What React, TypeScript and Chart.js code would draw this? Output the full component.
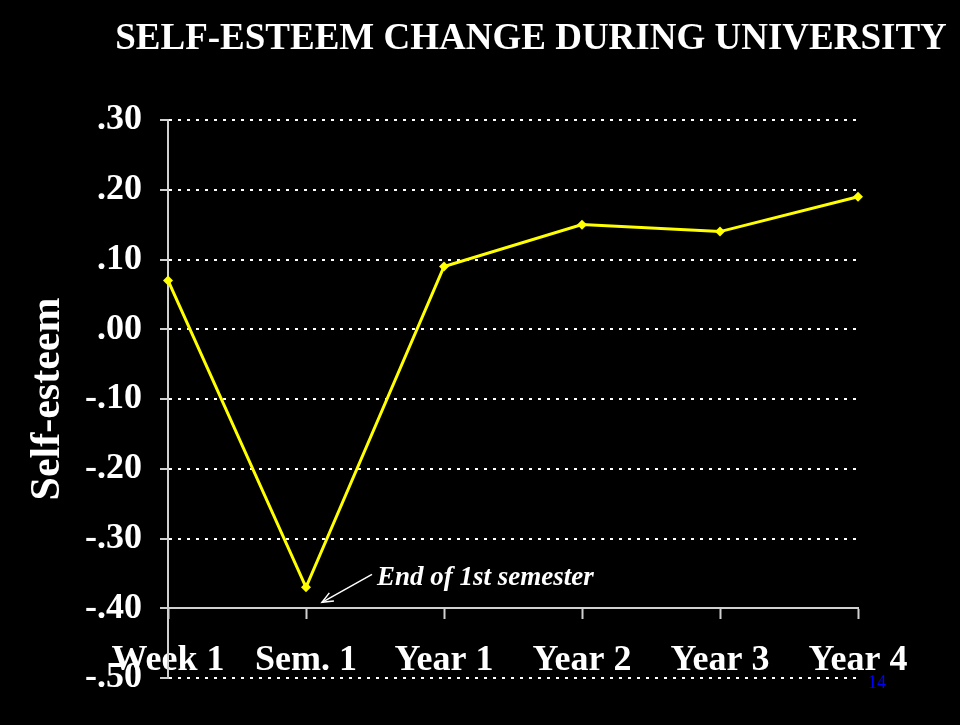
import React, { useEffect, useRef } from "react";
import { Chart, registerables } from "chart.js";

Chart.register(...registerables);

const chartTitle = "SELF-ESTEEM CHANGE DURING UNIVERSITY";
const categories = ["Week 1", "Sem. 1", "Year 1", "Year 2", "Year 3", "Year 4"];
const selfEsteem = [0.07, -0.37, 0.09, 0.15, 0.14, 0.19];
const yAxisTitle = "Self-esteem";
const yMin = -0.5;
const yMax = 0.3;
const yStep = 0.1;
const xAxisAt = -0.4;
const annotationText = "End of 1st semester";
const annotationIndex = 1;
const pageNumber = "14";

const SERIF = "'Liberation Serif', 'Times New Roman', serif";
const AXIS_GRAY = "#d0d0d0";

function fmtTick(v: number): string {
  const r = Math.round(v * 100) / 100;
  const s = Math.abs(r).toFixed(2).replace(/^0/, "");
  return (r < 0 ? "-" : "") + s;
}

const overlayPlugin = {
  id: "overlay",
  afterDraw(chart: any) {
    const { ctx } = chart;
    const xs = chart.scales.x;
    const ys = chart.scales.y;
    ctx.save();
    // title
    ctx.fillStyle = "#ffffff";
    ctx.font = `bold 37px ${SERIF}`;
    ctx.textAlign = "center";
    ctx.textBaseline = "alphabetic";
    ctx.fillText(chartTitle, 531, 49);

    // annotation
    const px = xs.getPixelForValue(annotationIndex);
    const py = ys.getPixelForValue(selfEsteem[annotationIndex]);
    const tipX = px + 16;
    const tipY = py + 15;
    const startX = px + 66;
    const startY = py - 13;
    ctx.strokeStyle = "#ffffff";
    ctx.lineWidth = 1.5;
    ctx.beginPath();
    ctx.moveTo(startX, startY);
    ctx.lineTo(tipX, tipY);
    ctx.stroke();
    const ang = Math.atan2(startY - tipY, startX - tipX);
    const hl = 12;
    ctx.beginPath();
    ctx.moveTo(tipX + hl * Math.cos(ang + 0.4), tipY + hl * Math.sin(ang + 0.4));
    ctx.lineTo(tipX, tipY);
    ctx.lineTo(tipX + hl * Math.cos(ang - 0.4), tipY + hl * Math.sin(ang - 0.4));
    ctx.stroke();
    ctx.font = `italic bold 27px ${SERIF}`;
    ctx.textAlign = "left";
    ctx.fillText(annotationText, px + 71, py - 2);

    // page number
    ctx.fillStyle = "#0000ff";
    ctx.font = `18px ${SERIF}`;
    ctx.fillText(pageNumber, 868, 688);
    ctx.restore();
  },
};

export default function App() {
  const ref = useRef<HTMLCanvasElement | null>(null);
  useEffect(() => {
    if (!ref.current) return;
    const chart = new Chart(ref.current, {
      type: "line",
      data: {
        labels: categories,
        datasets: [
          {
            data: selfEsteem,
            borderColor: "#ffff00",
            backgroundColor: "#ffff00",
            borderWidth: 3,
            pointStyle: "rectRot",
            pointRadius: 5,
            pointBorderWidth: 0,
            pointBackgroundColor: "#ffff00",
            tension: 0,
            clip: false as any,
          },
        ],
      },
      options: {
        animation: false,
        responsive: false,
        maintainAspectRatio: false,
        layout: { padding: { left: 0, right: 102, top: 120, bottom: 47 } },
        plugins: {
          legend: { display: false },
          title: { display: false },
          tooltip: { enabled: false },
        },
        scales: {
          x: {
            type: "category",
            position: { y: xAxisAt } as any,
            offset: false,
            grid: {
              drawOnChartArea: false,
              drawTicks: true,
              tickLength: 10,
              tickColor: AXIS_GRAY,
              tickWidth: 2,
            },
            border: { display: true, color: AXIS_GRAY, width: 2 },
            ticks: {
              color: "#ffffff",
              padding: 21,
              maxRotation: 0,
              autoSkip: false,
              font: { family: SERIF, size: 36, weight: "bold" },
            },
          },
          y: {
            min: yMin,
            max: yMax,
            afterFit(scale: any) {
              scale.width = 168;
            },
            grid: {
              color: (c: any) =>
                c.tick && Math.abs(c.tick.value - xAxisAt) < 1e-6 ? AXIS_GRAY : "#ffffff",
              lineWidth: 2,
              drawTicks: true,
              tickLength: 8,
              tickColor: AXIS_GRAY,
              tickWidth: 2,
              tickBorderDash: [],
            },
            border: {
              display: true,
              color: AXIS_GRAY,
              width: 2,
              dash: (c: any) =>
                c.tick && Math.abs(c.tick.value - xAxisAt) < 1e-6 ? [] : [3, 6],
            },
            ticks: {
              stepSize: yStep,
              color: "#ffffff",
              padding: 18,
              font: { family: SERIF, size: 36, weight: "bold" },
              callback: (v: any) => fmtTick(Number(v)),
            },
            title: {
              display: true,
              text: yAxisTitle,
              color: "#ffffff",
              padding: { top: 23, bottom: 0 },
              font: { family: SERIF, size: 42, weight: "bold" },
            },
          },
        },
      },
      plugins: [overlayPlugin],
    });
    return () => chart.destroy();
  }, []);
  return (
    <div
      style={{
        position: "fixed",
        left: 0,
        top: 0,
        width: 960,
        height: 725,
        background: "#000000",
      }}
    >
      <canvas ref={ref} width={960} height={725} style={{ display: "block" }} />
    </div>
  );
}
